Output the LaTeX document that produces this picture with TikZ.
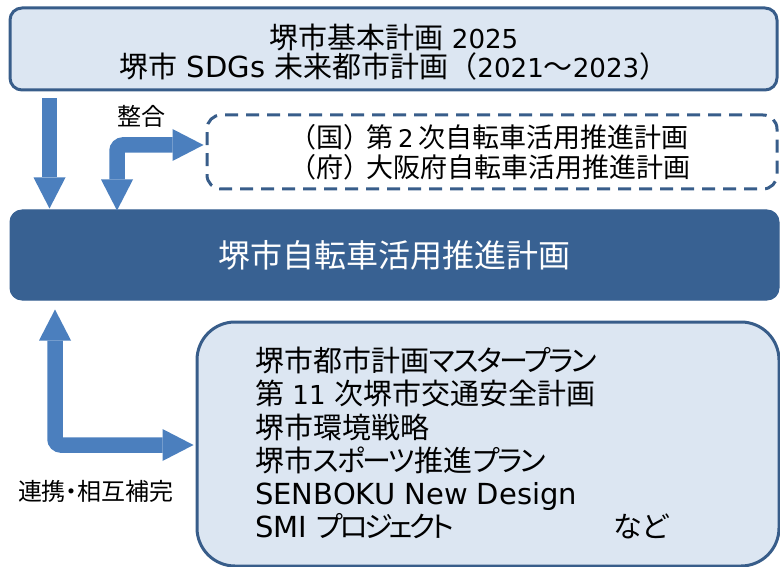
\documentclass[tikz,border=0pt]{standalone}
\usepackage{fontspec}
\setmainfont{Noto Sans CJK JP}
\newfontfamily\jpp[RawFeature=+palt]{Noto Sans CJK JP}
\newfontfamily\knf[RawFeature=+palt,LetterSpace=-8]{Noto Sans CJK JP}
\newfontfamily\knnf[RawFeature=+palt,LetterSpace=-12]{Noto Sans CJK JP}
\newfontfamily\latf{DejaVu Sans}
\newfontfamily\digf[Scale=0.9]{DejaVu Sans}
\newcommand\La[1]{{\latf #1}}
\newcommand\Dg[1]{{\digf #1}}
\newcommand\Kn[1]{{\knf #1}}
\newcommand\Knn[1]{{\knnf #1}}
\usetikzlibrary{arrows.meta,calc}
\definecolor{lightfill}{HTML}{DCE6F2}
\definecolor{boxborder}{HTML}{385D8A}
\definecolor{mainfill}{HTML}{386192}
\definecolor{arrowblue}{HTML}{4B7FBE}
\tikzset{
  lightbox/.style={draw=boxborder, fill=lightfill, line width=3pt, inner sep=0pt},
  dashbox/.style={draw=boxborder, line width=3pt, dash pattern=on 13pt off 8pt, rounded corners=14pt, inner sep=0pt},
  mainbox/.style={draw=mainfill, fill=mainfill, line width=1pt, rounded corners=12pt, inner sep=0pt},
  blockarrow/.style={draw=arrowblue, line width=15.5pt, rounded corners=6pt,
    -{Triangle[width=32pt,length=31pt,line width=0pt]}},
  blockarrow2/.style={draw=arrowblue, line width=15.5pt, rounded corners=6pt,
    {Triangle[width=32pt,length=31pt,line width=0pt]}-{Triangle[width=32pt,length=31pt,line width=0pt]}},
  lbl/.style={inner sep=0pt, font=\jpp\fontsize{24}{28}\selectfont},
  txt/.style={inner sep=0pt, font=\fontsize{29}{29}\selectfont},
}
\begin{document}
\begin{tikzpicture}[x=1pt,y=-1pt]
\useasboundingbox (0,0) rectangle (780,567);
% boxes
\node[lightbox, rounded corners=12pt, minimum width=767pt, minimum height=82pt] (top) at (393.5,49) {};
\node[txt, align=center] (toptext) at (394,52)
  {堺市基本計画\Dg{~2025}\\堺市\La{~SDGs~}未来都市計画（\Dg{2021}～\Dg{2023}）};
\node[dashbox, minimum width=570pt, minimum height=74pt] (nat) at (492,152) {};
\node[txt, font=\fontsize{27}{29.5}\selectfont, align=left, anchor=west] (nattext) at (289,152)
  {（国）\hspace{-4pt}第\hspace{5pt}\Dg{2}\hspace{5pt}次自転車活用推進計画\\（府）\hspace{-4pt}大阪府自転車活用推進計画};
\node[mainbox, minimum width=769pt, minimum height=90pt, text=white,
  font=\fontsize{32}{36}\selectfont] (main) at (394.5,255) {堺市自転車活用推進計画};
\node[lightbox, rounded corners=38pt, minimum width=582pt, minimum height=244pt] (rel) at (488,444) {};
\node[txt, font=\jpp\fontsize{29}{33.2}\selectfont, align=left, anchor=north west] (reltext) at (255,347)
  {堺市都市計画\Kn{マスタープラン}\\第\Dg{~11~}次堺市交通安全計画\\堺市環境戦略\\堺市\Kn{スポーツ}推進\Kn{プラン}\\\La{SENBOKU New Design}\\\La{SMI~}\Knn{プロジェクト}};
\node[txt, font=\jpp\fontsize{29}{30}\selectfont] (nado) at (641,526) {など};
% labels
\node[lbl] (lab1) at (141,116) {整合};
\node[lbl] (lab2) at (96,491) {連携・相互補完};
% connector coordinates
\coordinate (a1s) at ($(top.south west)+(41,7)$);
\coordinate (a1e) at (a1s |- main.north);
\coordinate (a2s) at ($(main.north west)+(107.5,1)$);
\coordinate (a2e) at ($(nat.west)+(-2,-7)$);
\coordinate (a3s) at ($(main.south west)+(45.5,9)$);
\coordinate (a3e) at ($(rel.west)+(-2,1)$);
% arrows
\draw[blockarrow] (a1s) -- ($(a1e)+(0,-1)$);
\draw[blockarrow2] (a2s) |- (a2e);
\draw[blockarrow2] (a3s) |- (a3e);
\end{tikzpicture}
\end{document}
